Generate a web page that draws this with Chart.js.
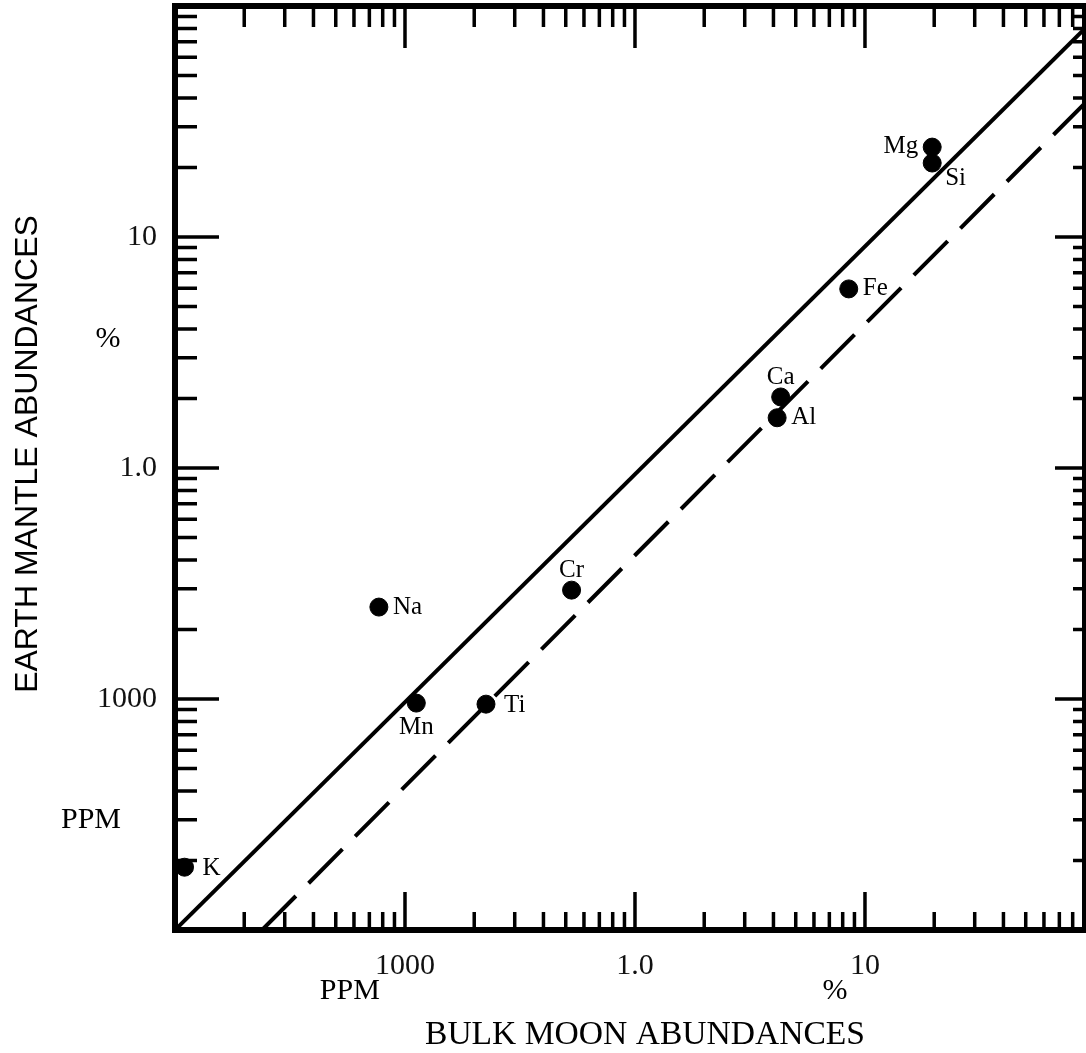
<!DOCTYPE html>
<html>
<head>
	<meta charset="utf-8">
	<title>Bulk Moon vs Earth Mantle abundances</title>
	<script src="https://cdn.jsdelivr.net/npm/chart.js@4.4.0/dist/chart.umd.min.js"></script>
	<style>
		body { margin: 0; background: #fff; overflow: hidden; }
		#wrap { width: 1086px; height: 1053px; }
	</style>
</head>
<body>
	<div id="wrap"><canvas id="myChart"></canvas></div>
	<script>
		// abundances, all in weight % (1000 ppm = 0.1 %)
		var elements  = ['Mg', 'Si', 'Fe', 'Ca', 'Al', 'Cr', 'Na', 'Mn', 'Ti', 'K'];
		var moonPct   = [19.6, 19.6, 8.5, 4.3, 4.15, 0.53, 0.077, 0.112, 0.225, 0.011];
		var earthPct  = [24.5, 20.9, 5.96, 2.03, 1.65, 0.296, 0.25, 0.096, 0.095, 0.0187];
		var labelSide = ['left', 'belowright', 'right', 'above', 'right', 'above', 'right', 'below', 'farright', 'farright'];

		// the two reference lines (start / end points)
		var solidX  = [0.01, 90.5];
		var solidY  = [0.01, 80];
		var dashedX = [0.0239, 90.5];
		var dashedY = [0.01, 38];

		// axis ranges and labelled ticks
		var axisMin = 0.01;
		var xMax = 90.5;
		var yMax = 100;
		var xTickValues = [0.1, 1, 10];
		var xTickText   = ['1000', '1.0', '10'];
		var yTickValues = [0.1, 1, 10];
		var yTickText   = ['1000', '1.0', '10'];

		var serif = '"Liberation Serif", "DejaVu Serif", serif';
		var sans = '"Liberation Sans", "DejaVu Sans", sans-serif';

		function pts(xs, ys) {
			return xs.map(function(v, i) { return { x: v, y: ys[i] }; });
		}

		// label offsets around a dot: [dx, dy, align]
		var sideOffsets = {
			left:       [-14, -1, 'right'],
			right:      [14, 0, 'left'],
			farright:   [18, 1, 'left'],
			belowright: [13, 15, 'left'],
			above:      [0, -20, 'center'],
			below:      [0, 24, 'center']
		};

		function noPad(scale) {
			scale.paddingTop = 0;
			scale.paddingBottom = 0;
			scale.paddingLeft = 0;
			scale.paddingRight = 0;
		}

		// frame, inward ticks, dot labels and titles
		var decorations = {
			id: 'decorations',
			afterDatasetsDraw: function(chart) {
				var ctx = chart.ctx;
				var a = chart.chartArea;
				var xs = chart.scales.x, ys = chart.scales.y;
				ctx.save();
				ctx.strokeStyle = '#000';
				ctx.fillStyle = '#000';

				// ticks
				ctx.lineWidth = 3.5;
				ctx.lineCap = 'butt';
				for (var d = 0.01; d <= 100; d *= 10) {
					for (var k = 1; k <= 9; k++) {
						var v = k * d;
						var major = (k === 1);
						if (v > axisMin * 1.001 && v < xMax * 0.999) {
							var px = xs.getPixelForValue(v);
							ctx.beginPath();
							ctx.moveTo(px, a.bottom); ctx.lineTo(px, a.bottom - (major ? 38 : 18));
							ctx.moveTo(px, a.top); ctx.lineTo(px, a.top + (major ? 42 : 21));
							ctx.stroke();
						}
						if (v > axisMin * 1.001 && v < yMax * 0.999) {
							var py = ys.getPixelForValue(v);
							ctx.beginPath();
							ctx.moveTo(a.left, py); ctx.lineTo(a.left + (major ? 44 : 22), py);
							ctx.moveTo(a.right, py); ctx.lineTo(a.right - (major ? 30 : 12), py);
							ctx.stroke();
						}
					}
				}

				// frame
				ctx.lineWidth = 6;
				ctx.strokeRect(a.left, a.top, a.right - a.left, a.bottom - a.top);

				// element labels
				ctx.font = '25px ' + serif;
				ctx.textBaseline = 'middle';
				var meta = chart.getDatasetMeta(0);
				meta.data.forEach(function(p, i) {
					var o = sideOffsets[labelSide[i]];
					ctx.textAlign = o[2];
					ctx.fillText(elements[i], p.x + o[0], p.y + o[1]);
				});

				// unit notes
				ctx.font = '30px ' + serif;
				ctx.textAlign = 'center';
				ctx.fillText('%', 108, ys.getPixelForValue(3.6));
				ctx.fillText('PPM', 91, ys.getPixelForValue(0.03));
				ctx.fillText('PPM', xs.getPixelForValue(0.0576), 991);
				ctx.fillText('%', xs.getPixelForValue(7.4), 991);

				// axis titles
				ctx.font = '34px ' + serif;
				ctx.fillText('BULK MOON ABUNDANCES', 645, 1035, 440);
				ctx.save();
				ctx.translate(28, 454);
				ctx.rotate(-Math.PI / 2);
				ctx.font = '32px ' + sans;
				ctx.fillText('EARTH MANTLE ABUNDANCES', 0, 0, 488);
				ctx.restore();

				ctx.restore();
			}
		};

		var ctx = document.getElementById('myChart').getContext('2d');
		var myChart = new Chart(ctx, {
			type: 'scatter',
			data: {
				datasets: [{
					label: 'elements',
					data: pts(moonPct, earthPct),
					backgroundColor: '#000',
					borderColor: '#000',
					pointRadius: 9,
					pointHoverRadius: 9
				}, {
					type: 'line',
					label: 'solid',
					data: pts(solidX, solidY),
					borderColor: '#000',
					borderWidth: 4,
					pointRadius: 0,
					fill: false
				}, {
					type: 'line',
					label: 'dashed',
					data: pts(dashedX, dashedY),
					borderColor: '#000',
					borderWidth: 4,
					borderDash: [48, 18],
					pointRadius: 0,
					fill: false
				}]
			},
			options: {
				responsive: true,
				maintainAspectRatio: false,
				animation: false,
				layout: { autoPadding: false, padding: { top: 6, right: 1, left: 0, bottom: 0 } },
				plugins: {
					legend: { display: false },
					tooltip: { enabled: false }
				},
				scales: {
					x: {
						type: 'logarithmic',
						min: axisMin,
						max: xMax,
						grid: { display: false },
						border: { display: false },
						afterBuildTicks: function(scale) {
							scale.ticks = xTickValues.map(function(v) { return { value: v }; });
						},
						afterFit: function(scale) { scale.height = 123; noPad(scale); },
						ticks: {
							autoSkip: false,
							maxRotation: 0,
							padding: 10,
							color: '#111',
							font: { family: serif, size: 30 },
							callback: function(v) {
								var i = xTickValues.indexOf(v);
								return i >= 0 ? xTickText[i] : '';
							}
						}
					},
					y: {
						type: 'logarithmic',
						min: axisMin,
						max: yMax,
						grid: { display: false },
						border: { display: false },
						afterBuildTicks: function(scale) {
							scale.ticks = yTickValues.map(function(v) { return { value: v }; });
						},
						afterFit: function(scale) { scale.width = 175; noPad(scale); },
						ticks: {
							autoSkip: false,
							padding: 10,
							color: '#111',
							font: { family: serif, size: 30 },
							callback: function(v) {
								var i = yTickValues.indexOf(v);
								return i >= 0 ? yTickText[i] : '';
							}
						}
					}
				}
			},
			plugins: [decorations]
		});
	</script>
</body>
</html>
